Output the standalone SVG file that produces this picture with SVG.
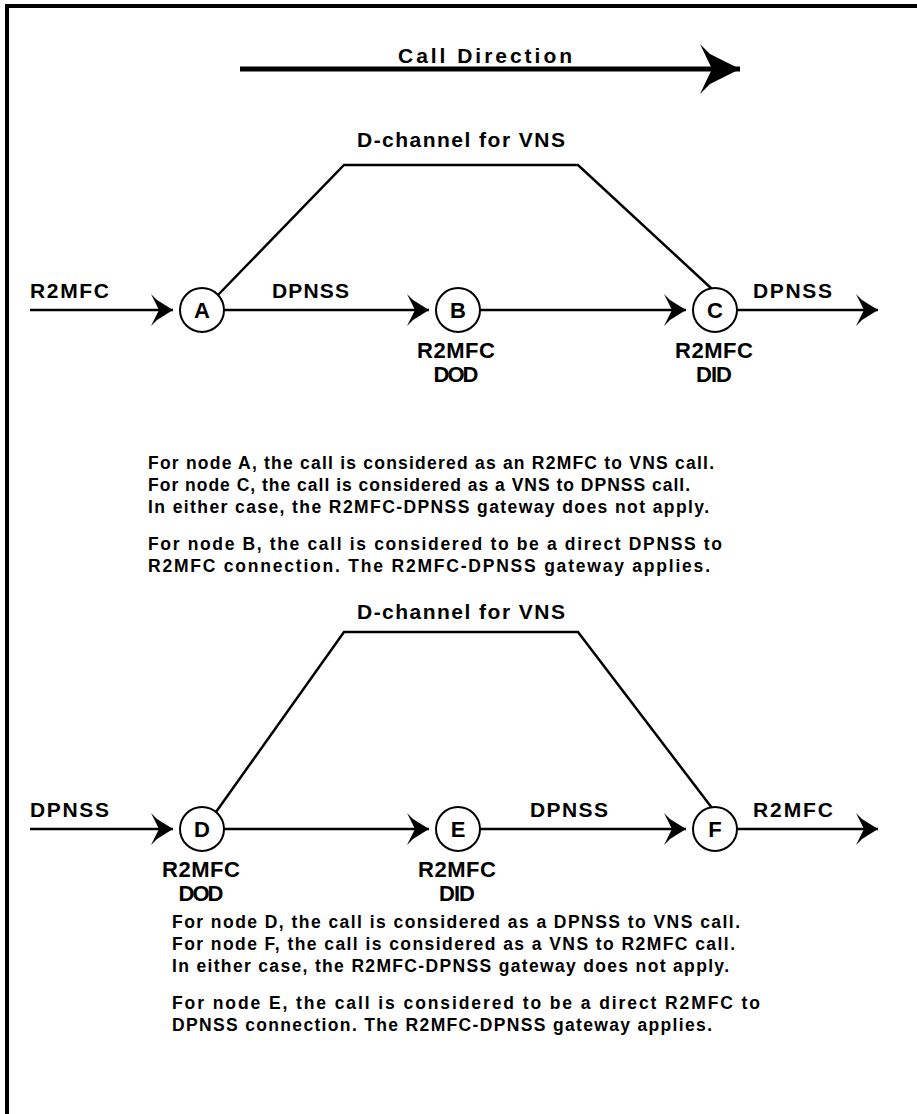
<svg xmlns="http://www.w3.org/2000/svg" width="917" height="1114" viewBox="0 0 917 1114">
  <style>
    .frame { stroke: #000; stroke-width: 4; fill: none; }
    .wire { stroke: #000; stroke-width: 2.5; fill: none; }
    .node circle { fill: #fff; stroke: #000; stroke-width: 2; }
    .node text, .lbl { font-family: "Liberation Sans", Arial, sans-serif; font-weight: bold; fill: #000; }
    .node text { font-size: 22px; text-anchor: middle; }
    .lbl { font-size: 21px; }
    .mid { text-anchor: middle; }
    .note { font-family: "Liberation Sans", Arial, sans-serif; font-weight: bold; font-size: 17.5px; fill: #000; }
  </style>
  <defs>
    <marker id="chev" markerUnits="userSpaceOnUse" markerWidth="30" markerHeight="36" viewBox="-26 -18 30 36" refX="0" refY="0" orient="auto" overflow="visible">
      <path d="M-22,-16 L-16,-10 L0,0 L-16,10 L-22,16 L-14,0 Z" fill="#000"/>
    </marker>
    <marker id="bigchev" markerUnits="userSpaceOnUse" markerWidth="46" markerHeight="56" viewBox="-44 -27 46 56" refX="0" refY="0" orient="auto" overflow="visible">
      <path d="M-40,-25 L-30,-15 L0,0 L-30,15 L-40,25 L-28,0 Z" fill="#000"/>
    </marker>
  </defs>

  <rect width="917" height="1114" fill="#fff"/>

  <!-- open frame: top and left edges only -->
  <path class="frame" d="M7,1114 V6 H917"/>

  <!-- direction banner -->
  <g id="call-direction">
    <line x1="240" y1="69" x2="740" y2="69" stroke="#000" stroke-width="5" marker-end="url(#bigchev)"/>
    <text class="lbl" x="398" y="63" font-size="22" textLength="174">Call Direction</text>
  </g>

  <g id="connectors">
    <!-- upper scenario -->
    <path class="wire" d="M218,295 L344,165 H578 L712,289"/>
    <line class="wire" x1="30" y1="310" x2="173" y2="310" marker-end="url(#chev)"/>
    <line class="wire" x1="224" y1="310" x2="429" y2="310" marker-end="url(#chev)"/>
    <line class="wire" x1="480" y1="310" x2="686" y2="310" marker-end="url(#chev)"/>
    <line class="wire" x1="737" y1="310" x2="878" y2="310" marker-end="url(#chev)"/>

    <!-- lower scenario -->
    <path class="wire" d="M216,812 L344,632 H578 L712,808"/>
    <line class="wire" x1="30" y1="829" x2="173" y2="829" marker-end="url(#chev)"/>
    <line class="wire" x1="224" y1="829" x2="429" y2="829" marker-end="url(#chev)"/>
    <line class="wire" x1="480" y1="829" x2="686" y2="829" marker-end="url(#chev)"/>
    <line class="wire" x1="737" y1="829" x2="878" y2="829" marker-end="url(#chev)"/>
  </g>

  <g id="labels-upper">
    <text class="lbl mid" x="461" y="147" textLength="208">D-channel for VNS</text>
    <text class="lbl" x="30" y="298" textLength="79">R2MFC</text>
    <text class="lbl" x="272" y="298" textLength="77">DPNSS</text>
    <text class="lbl" x="753" y="298" textLength="79">DPNSS</text>
  </g>

  <g id="node-A" class="node">
    <circle cx="202" cy="310" r="22"/>
    <text x="202" y="318">A</text>
  </g>
  <g id="node-B" class="node">
    <circle cx="458" cy="310" r="22"/>
    <text x="458" y="318">B</text>
    <text class="lbl" x="456" y="358" textLength="78">R2MFC</text>
    <text class="lbl" x="456" y="382" textLength="45">DOD</text>
  </g>
  <g id="node-C" class="node">
    <circle cx="715" cy="310" r="22"/>
    <text x="715" y="318">C</text>
    <text class="lbl" x="714" y="358" textLength="78">R2MFC</text>
    <text class="lbl" x="714" y="382" textLength="36">DID</text>
  </g>

  <g id="notes-upper" class="note">
    <text x="148" y="469" textLength="566">For node A, the call is considered as an R2MFC to VNS call.</text>
    <text x="148" y="491" textLength="542">For node C, the call is considered as a VNS to DPNSS call.</text>
    <text x="148" y="513" textLength="561">In either case, the R2MFC-DPNSS gateway does not apply.</text>
    <text x="148" y="550" textLength="574">For node B, the call is considered to be a direct DPNSS to</text>
    <text x="148" y="572" textLength="562">R2MFC connection. The R2MFC-DPNSS gateway applies.</text>
  </g>

  <g id="labels-lower">
    <text class="lbl mid" x="461" y="619" textLength="208">D-channel for VNS</text>
    <text class="lbl" x="30" y="817" textLength="79">DPNSS</text>
    <text class="lbl" x="530" y="817" textLength="78">DPNSS</text>
    <text class="lbl" x="753" y="817" textLength="80">R2MFC</text>
  </g>

  <g id="node-D" class="node">
    <circle cx="202" cy="829" r="22"/>
    <text x="202" y="837">D</text>
    <text class="lbl" x="201" y="877" textLength="78">R2MFC</text>
    <text class="lbl" x="201" y="901" textLength="45">DOD</text>
  </g>
  <g id="node-E" class="node">
    <circle cx="458" cy="829" r="22"/>
    <text x="458" y="837">E</text>
    <text class="lbl" x="457" y="877" textLength="78">R2MFC</text>
    <text class="lbl" x="457" y="901" textLength="36">DID</text>
  </g>
  <g id="node-F" class="node">
    <circle cx="715" cy="829" r="22"/>
    <text x="715" y="837">F</text>
  </g>

  <g id="notes-lower" class="note">
    <text x="172" y="928" textLength="568">For node D, the call is considered as a DPNSS to VNS call.</text>
    <text x="172" y="950" textLength="563">For node F, the call is considered as a VNS to R2MFC call.</text>
    <text x="172" y="972" textLength="557">In either case, the R2MFC-DPNSS gateway does not apply.</text>
    <text x="172" y="1009" textLength="588">For node E, the call is considered to be a direct R2MFC to</text>
    <text x="172" y="1031" textLength="540">DPNSS connection. The R2MFC-DPNSS gateway applies.</text>
  </g>
</svg>
